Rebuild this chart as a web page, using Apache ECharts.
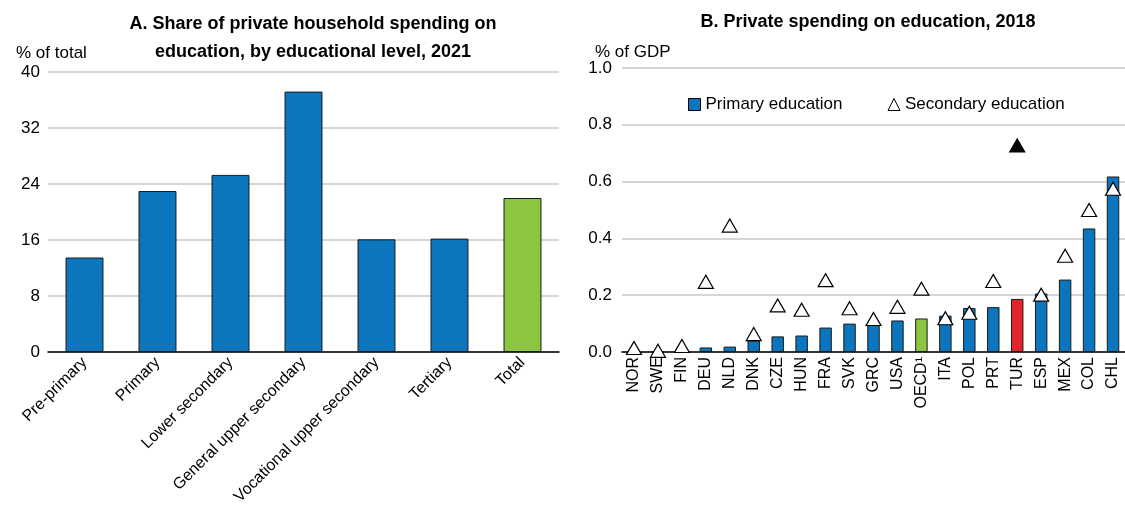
<!DOCTYPE html>
<html>
<head>
<meta charset="utf-8">
<script src="https://cdn.jsdelivr.net/npm/echarts@6/dist/echarts.min.js"></script>
<style>
  html, body { margin: 0; padding: 0; background: #fff; }
  #main { width: 1125px; height: 521px; }
</style>
</head>
<body>
<div id="main"></div>
<script>
// Panel A: share of private household spending on education, 2021
var levels = ['Pre-primary', 'Primary', 'Lower secondary', 'General upper secondary',
  'Vocational upper secondary', 'Tertiary', 'Total'];
var levelShare = [13.5, 23.0, 25.3, 37.2, 16.1, 16.2, 22.0];
var shareTicks = [0, 8, 16, 24, 32, 40];

// Panel B: private spending on education, 2018 (% of GDP)
var countries = ['NOR', 'SWE', 'FIN', 'DEU', 'NLD', 'DNK', 'CZE', 'HUN', 'FRA', 'SVK', 'GRC',
  'USA', 'OECD\u00b9', 'ITA', 'POL', 'PRT', 'TUR', 'ESP', 'MEX', 'COL', 'CHL'];
var primaryEdu = [0, 0, 0, 0.016, 0.019, 0.04, 0.055, 0.058, 0.086, 0.10, 0.095,
  0.111, 0.118, 0.128, 0.155, 0.158, 0.187, 0.206, 0.255, 0.435, 0.618];
var secondaryEdu = [0.014, 0.004, 0.021, 0.247, 0.445, 0.063, 0.164, 0.149, 0.253, 0.154, 0.116,
  0.159, 0.223, 0.119, 0.138, 0.25, 0.727, 0.202, 0.339, 0.50, 0.575];
var gdpTicks = [0, 0.2, 0.4, 0.6, 0.8, 1.0];

var BLUE = '#0b76bd', GREEN = '#8cc641', RED = '#e3242b';
var FONT = "'Liberation Sans', Arial, sans-serif";

var chart = echarts.init(document.getElementById('main'));

var barsA = levelShare.map(function (v, i) {
  return { value: v, itemStyle: { color: levels[i] === 'Total' ? GREEN : BLUE } };
});
var barsB = primaryEdu.map(function (v, i) {
  var c = BLUE;
  if (countries[i] === 'OECD\u00b9') c = GREEN;
  if (countries[i] === 'TUR') c = RED;
  return { value: v, itemStyle: { color: c } };
});
var trisB = secondaryEdu.map(function (v, i) {
  var tur = countries[i] === 'TUR';
  return { value: v, itemStyle: { color: tur ? '#000' : '#fff' } };
});

var gridLine = { show: true, lineStyle: { color: '#c9c9c9', width: 1.5 } };
var axisLineBlack = { show: true, onZero: true, lineStyle: { color: '#000', width: 1.5 } };

var option = {
  backgroundColor: '#fff',
  textStyle: { fontFamily: FONT },
  animation: false,
  title: [
    { text: 'A. Share of private household spending on\neducation, by educational level, 2021',
      left: 308, top: 5, textAlign: 'center',
      textStyle: { fontFamily: FONT, fontSize: 18, fontWeight: 'bold', color: '#000', lineHeight: 28 } },
    { text: '% of total', left: 11, top: 40,
      textStyle: { fontFamily: FONT, fontSize: 17, fontWeight: 'normal', color: '#000' } },
    { text: 'B. Private spending on education, 2018',
      left: 863, top: 8, textAlign: 'center',
      textStyle: { fontFamily: FONT, fontSize: 18, fontWeight: 'bold', color: '#000' } },
    { text: '% of GDP', left: 590, top: 39,
      textStyle: { fontFamily: FONT, fontSize: 17, fontWeight: 'normal', color: '#000' } }
  ],
  legend: {
    left: 683, top: 91, itemGap: 45, itemWidth: 12, itemHeight: 12,
    textStyle: { fontFamily: FONT, fontSize: 17, color: '#000' },
    data: [
      { name: 'Primary education', icon: 'rect',
        itemStyle: { color: BLUE, borderColor: '#000', borderWidth: 1 } },
      { name: 'Secondary education', icon: 'triangle',
        itemStyle: { color: '#fff', borderColor: '#000', borderWidth: 1 } }
    ]
  },
  grid: [
    { left: 48, top: 72, width: 511, height: 280 },
    { left: 622, top: 68, width: 507, height: 284 }
  ],
  xAxis: [
    { type: 'category', gridIndex: 0, data: levels,
      axisLine: axisLineBlack, axisTick: { show: false },
      axisLabel: { rotate: 45, fontSize: 16, color: '#000', margin: 8, interval: 0, fontFamily: FONT } },
    { type: 'category', gridIndex: 1, data: countries,
      axisLine: axisLineBlack, axisTick: { show: false },
      axisLabel: { rotate: 90, fontSize: 16, color: '#000', margin: 5, interval: 0, fontFamily: FONT } }
  ],
  yAxis: [
    { type: 'value', gridIndex: 0, min: shareTicks[0], max: shareTicks[shareTicks.length - 1],
      interval: shareTicks[1] - shareTicks[0],
      axisLine: { show: false }, axisTick: { show: false }, splitLine: gridLine,
      axisLabel: { fontSize: 17, color: '#000', margin: 8, fontFamily: FONT } },
    { type: 'value', gridIndex: 1, min: gdpTicks[0], max: gdpTicks[gdpTicks.length - 1],
      interval: 0.2,
      axisLine: { show: false }, axisTick: { show: false }, splitLine: gridLine,
      axisLabel: { fontSize: 17, color: '#000', margin: 10, fontFamily: FONT,
        formatter: function (v) { return v.toFixed(1); } } }
  ],
  series: [
    { name: 'Share', type: 'bar', xAxisIndex: 0, yAxisIndex: 0, data: barsA,
      barWidth: '52%', itemStyle: { borderColor: '#1a1a1a', borderWidth: 1 } },
    { name: 'Primary education', type: 'bar', xAxisIndex: 1, yAxisIndex: 1, data: barsB,
      barWidth: '52%', itemStyle: { borderColor: '#1a1a1a', borderWidth: 1 } },
    { name: 'Secondary education', type: 'scatter', xAxisIndex: 1, yAxisIndex: 1, data: trisB,
      symbol: 'triangle', symbolSize: [15, 13], z: 5,
      itemStyle: { borderColor: '#000', borderWidth: 1.2, opacity: 1 } }
  ]
};

chart.setOption(option);
</script>
</body>
</html>
